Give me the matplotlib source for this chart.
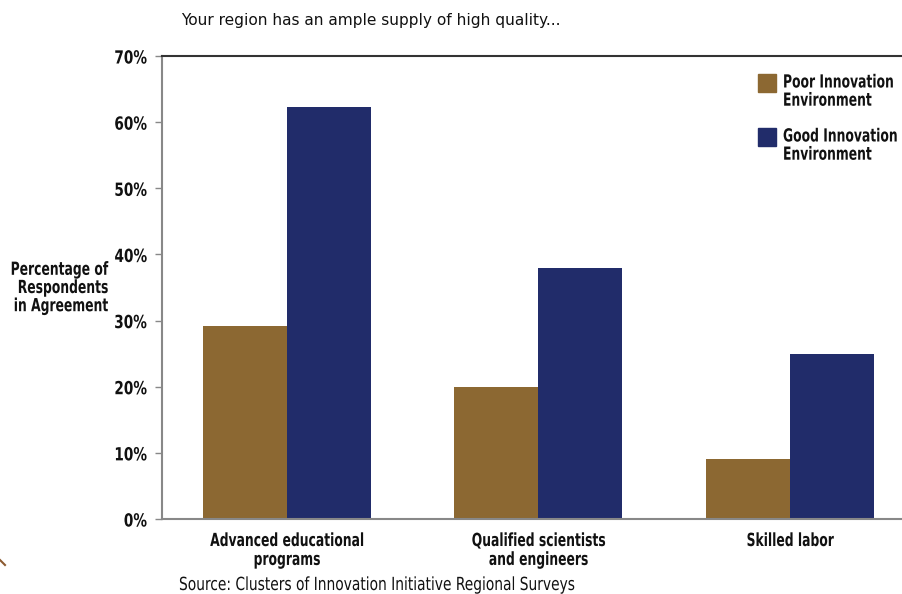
import matplotlib
matplotlib.use("Agg")
import matplotlib.pyplot as plt
import numpy as np
from matplotlib.patches import Rectangle
from matplotlib.lines import Line2D
from matplotlib.patheffects import AbstractPathEffect
from matplotlib.transforms import Affine2D
from matplotlib import font_manager as fm

categories = ["Advanced educational\nprograms", "Qualified scientists\nand engineers", "Skilled labor"]
poor = [29.2, 20.0, 9.1]
good = [62.3, 37.9, 25.0]
series_names = ["Poor Innovation\nEnvironment", "Good Innovation\nEnvironment"]
yticks = [0, 10, 20, 30, 40, 50, 60, 70]
ytick_labels = [f"{v}%" for v in yticks]

BROWN = "#8C6832"
NAVY = "#212C6A"


class VStretch(AbstractPathEffect):
    """Stretch glyphs vertically about their baseline (narrow, tall lettering)."""

    def __init__(self, sy, dy=0.0):
        super().__init__()
        self.sy = sy
        self.dy = dy

    def draw_path(self, renderer, gc, tpath, affine, rgbFace=None):
        aff = Affine2D().scale(1, self.sy) + affine + Affine2D().translate(0, self.dy)
        renderer.draw_path(gc, tpath, aff, rgbFace)


cond = fm.findfont(fm.FontProperties(family="DejaVu Sans", stretch="condensed", weight="bold"))
HAS_COND = "Condensed" in cond
K = 1.0 if HAS_COND else 0.9
STRETCH = "condensed" if HAS_COND else "normal"
BASE = 13.0
SXB = 0.76 * K     # bold labels
SXT = 0.84 * K     # tick numbers
SXR = 0.85 * K     # source line


def style(sx, dy=0.0, ls=1.05, bold=True):
    return dict(fontfamily="DejaVu Sans", fontweight="bold" if bold else "normal", fontstretch=STRETCH,
                fontsize=BASE * sx, color="#111111", linespacing=ls / sx,
                path_effects=[VStretch(1 / sx, dy)])


W, H = 903, 594
fig = plt.figure(figsize=(W / 100, H / 100), dpi=100)
fig.patch.set_facecolor("white")
ax = fig.add_axes([162 / W, 1 - 519 / H, (W - 162) / W, (519 - 56) / H])

x = np.arange(len(categories))
bw = 0.334
ax.bar(x - bw / 2, poor, width=bw, color=BROWN, edgecolor="none", zorder=2)
ax.bar(x + bw / 2, good, width=bw, color=NAVY, edgecolor="none", zorder=2)

ax.set_xlim(-0.497, 2.45)
ax.set_ylim(0, 70)
ax.set_yticks(yticks)
ax.set_yticklabels(ytick_labels)
for t in ax.get_yticklabels():
    t.set(**style(SXT, dy=-1.5))
ax.set_xticks(x)
ax.set_xticklabels(categories)
for t in ax.get_xticklabels():
    t.set(**style(SXB, dy=-3.5, ls=1.1))
ax.tick_params(axis="x", length=0, pad=9)
ax.tick_params(axis="y", length=5, width=1, color="#888888", direction="out", pad=6)

for s in ["left", "bottom"]:
    ax.spines[s].set_color("#888888")
    ax.spines[s].set_linewidth(1.5)
ax.spines["top"].set_color("#333333")
ax.spines["top"].set_linewidth(1.5)
ax.spines["right"].set_visible(False)

fig.text(108 / W, 1 - 287 / H, "Percentage of\nRespondents\nin Agreement", ha="right", va="center",
         **style(SXB, dy=-2))

fig.text(181 / W, 1 - 20 / H, "Your region has an ample supply of high quality...", ha="left", va="center",
         fontfamily="DejaVu Sans", fontsize=11.1, color="#111111")
fig.text(179 / W, 1 - 584 / H, "Source: Clusters of Innovation Initiative Regional Surveys", ha="left",
         va="center", **style(SXR, dy=-1.5, bold=False))

# legend
for i, (name, col) in enumerate(zip(series_names, [BROWN, NAVY])):
    ytop = 74 + i * 54
    fig.patches.append(Rectangle((758 / W, 1 - (ytop + 18) / H), 18 / W, 18 / H,
                                 transform=fig.transFigure, color=col, zorder=3))
    fig.text(783 / W, 1 - (ytop - 1) / H, name, ha="left", va="top", **style(SXB, dy=-3.5))

# small decorative mark bottom-left
fig.lines.append(Line2D([0 / W, 5 / W], [1 - 560 / H, 1 - 565 / H], transform=fig.transFigure,
                        color="#8C5A30", linewidth=1.5))

fig.savefig("out.png", dpi=100, facecolor="white")
